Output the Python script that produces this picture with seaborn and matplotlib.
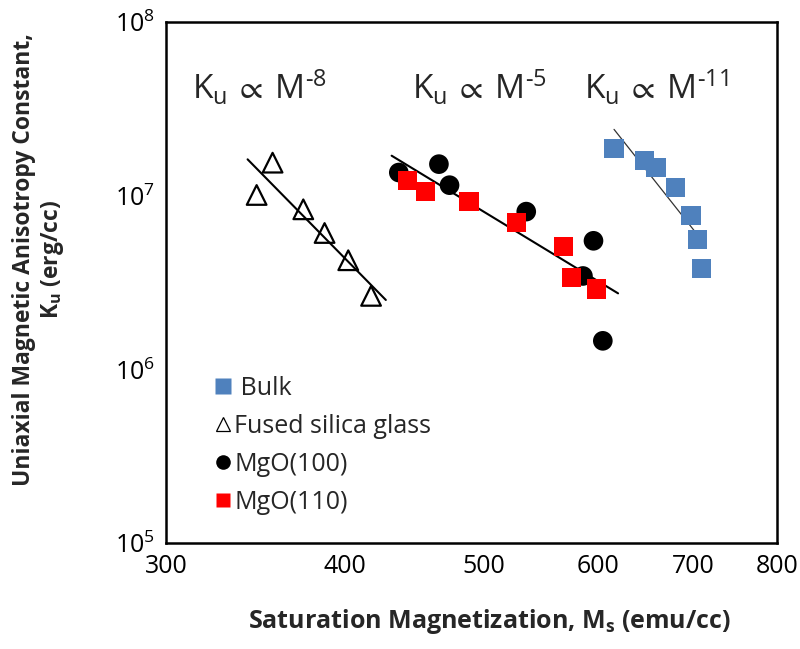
import matplotlib
matplotlib.use("Agg")
import matplotlib.pyplot as plt
import seaborn as sns
import pandas as pd
import numpy as np
from matplotlib.ticker import FixedLocator, FixedFormatter, LogLocator, NullLocator
from matplotlib.lines import Line2D

# ---------------- data ----------------
bulk_ms = [616, 647, 659, 680, 697, 704, 709]
bulk_ku = [1.88e7, 1.59e7, 1.45e7, 1.12e7, 7.7e6, 5.6e6, 3.8e6]

glass_ms = [356, 347, 374, 387, 402, 417]
glass_ku = [1.55e7, 1.01e7, 8.35e6, 6.1e6, 4.25e6, 2.65e6]

mgo100_ms = [436, 465, 473, 535, 596, 586, 605]
mgo100_ku = [1.36e7, 1.52e7, 1.15e7, 8.1e6, 5.5e6, 3.45e6, 1.46e6]

mgo110_ms = [442, 455, 488, 527, 568, 575, 599]
mgo110_ku = [1.23e7, 1.06e7, 9.3e6, 7.0e6, 5.1e6, 3.4e6, 2.9e6]

# fitted power-law lines (end points)
fit_glass_ms = [342, 427]
fit_glass_ku = [1.62e7, 2.51e6]
fit_mgo_ms = [431, 620]
fit_mgo_ku = [1.70e7, 2.74e6]
fit_bulk_ms = [616, 709]
fit_bulk_ku = [2.41e7, 5.56e6]

x_ticks = [300, 400, 500, 600, 700, 800]
x_ticklabels = ["300", "400", "500", "600", "700", "800"]

series_names = [" Bulk", "Fused silica glass", "MgO(100)", "MgO(110)"]
exponents = ["-8", "-5", "-11"]

# ---------------- style ----------------
sns.set_style("white")
plt.rcParams["font.family"] = ["Open Sans", "DejaVu Sans"]
plt.rcParams["mathtext.default"] = "regular"
plt.rcParams["mathtext.fontset"] = "dejavusans"

fig = plt.figure(figsize=(8.0, 6.49), dpi=100)
ax = fig.add_axes([0.2075, 0.1633, 0.971 - 0.2075, 0.966 - 0.1633])

blue = "#4F81BD"
red = "#FF0000"

# lines
sns.lineplot(x=fit_glass_ms, y=fit_glass_ku, ax=ax, color="black", lw=1.5, legend=False)
sns.lineplot(x=fit_mgo_ms, y=fit_mgo_ku, ax=ax, color="black", lw=1.5, legend=False)
sns.lineplot(x=fit_bulk_ms, y=fit_bulk_ku, ax=ax, color="#333333", lw=0.9, legend=False)

# points
sns.scatterplot(x=bulk_ms, y=bulk_ku, ax=ax, marker="s", s=190, color=blue,
                edgecolor="none", zorder=3)
sns.scatterplot(x=mgo100_ms, y=mgo100_ku, ax=ax, marker="o", s=200, color="black",
                edgecolor="none", zorder=3)
sns.scatterplot(x=mgo110_ms, y=mgo110_ku, ax=ax, marker="s", s=190, color=red,
                edgecolor="none", zorder=4)
sns.scatterplot(x=glass_ms, y=glass_ku, ax=ax, marker="^", s=200, facecolor="none",
                edgecolor="black", linewidth=1.6, zorder=4)

ax.set_xscale("log")
ax.set_yscale("log")
ax.set_xlim(300, 800)
ax.set_ylim(1e5, 1e8)
ax.xaxis.set_major_locator(FixedLocator(x_ticks))
ax.xaxis.set_major_formatter(FixedFormatter(x_ticklabels))
ax.xaxis.set_minor_locator(NullLocator())
ax.yaxis.set_major_locator(LogLocator(base=10, numticks=10))
ax.yaxis.set_minor_locator(NullLocator())

ax.tick_params(axis="both", which="major", direction="in", length=4, width=1.5,
               labelsize=18, colors="black", pad=8)
for sp in ax.spines.values():
    sp.set_visible(True)
    sp.set_color("black")
    sp.set_linewidth(1.8)

ax.set_xlabel("Saturation Magnetization, M$_{s}$ (emu/cc)", fontsize=18,
              fontweight="bold")
ax.xaxis.set_label_coords(0.53, -0.122)
ax.set_ylabel("Uniaxial Magnetic Anisotropy Constant,\nK$_{u}$ (erg/cc)", fontsize=16.5,
              fontweight="bold", linespacing=1.2)
ax.yaxis.set_label_coords(-0.163, 0.545)

# annotations
ann_x = [0.043, 0.402, 0.685]
for xa, ex in zip(ann_x, exponents):
    ex_txt = ex.replace("-", "\u2010")
    ax.text(xa, 0.852, "K$_{u}\\,\\propto\\,$M$^{" + ex_txt + "}$", transform=ax.transAxes,
            fontsize=24, ha="left", va="baseline")

# legend
handles = [
    Line2D([], [], ls="none", marker="s", ms=11, mfc=blue, mec="none"),
    Line2D([], [], ls="none", marker="^", ms=10, mfc="white", mec="black", mew=0.9),
    Line2D([], [], ls="none", marker="o", ms=10.5, mfc="black", mec="none"),
    Line2D([], [], ls="none", marker="s", ms=10.5, mfc=red, mec="none"),
]
leg = ax.legend(handles, series_names, loc="lower left", bbox_to_anchor=(0.065, 0.035),
                frameon=False, fontsize=18, handlelength=0.6, handletextpad=0.15,
                labelspacing=0.52, borderaxespad=0)

fig.savefig("out.png", dpi=100)
